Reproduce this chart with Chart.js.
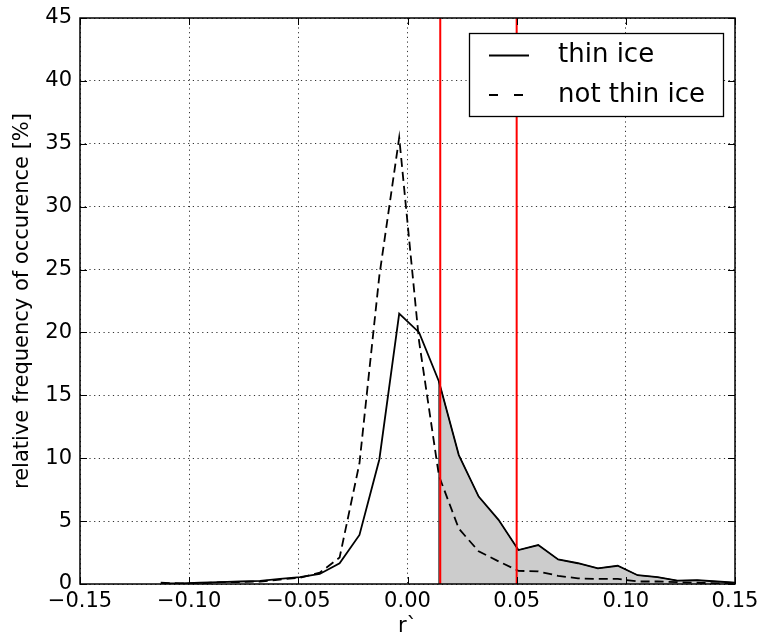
<!DOCTYPE html>
<html><head><meta charset="utf-8">
<script src="https://cdn.jsdelivr.net/npm/chart.js@4.4.0/dist/chart.umd.min.js"></script>
<style>html,body{margin:0;padding:0;background:#fff;}canvas{display:block;}</style>
</head><body>
<canvas id="c" width="759" height="635"></canvas>
<script>
// ---- data ----
const rValues = [-0.1130,-0.1039,-0.0948,-0.0857,-0.0766,-0.0675,-0.0584,-0.0493,-0.0402,-0.0311,
  -0.0220,-0.0129,-0.0038,0.0053,0.0144,0.0235,0.0326,0.0417,0.0508,0.0599,
  0.0690,0.0781,0.0872,0.0963,0.1054,0.1145,0.1236,0.1327,0.1418,0.1509];
const thinIce = [0.05,0.05,0.1,0.15,0.2,0.25,0.4,0.55,0.8,1.65,
  3.9,9.9,21.5,20.0,16.1,10.25,6.95,5.1,2.7,3.1,
  1.95,1.65,1.25,1.45,0.7,0.55,0.27,0.3,0.2,0.1];
const notThinIce = [0.1,0.05,0.05,0.15,0.15,0.2,0.35,0.5,0.9,2.1,
  9.6,24.5,35.5,19.3,8.6,4.4,2.6,1.8,1.05,1.0,
  0.65,0.45,0.4,0.4,0.2,0.2,0.15,0.1,0.05,0.05];
const seriesLabels = ['thin ice', 'not thin ice'];
const thresholds = [0.015, 0.05];
const shadeFrom = 0.014;
const xTicks = [-0.15,-0.10,-0.05,0.00,0.05,0.10,0.15];
const yTicks = [0,5,10,15,20,25,30,35,40,45];
const xTitle = 'r`';
const yTitle = 'relative frequency of occurence [%]';

// ---- build datasets ----
const pts = (ys) => rValues.map((x, i) => ({x, y: ys[i]}));
const shadeIdx = rValues.findIndex(v => v >= shadeFrom);
const shadePts = [{x: rValues[shadeIdx], y: 0}].concat(pts(thinIce).slice(shadeIdx));
const yMin = yTicks[0], yMax = yTicks[yTicks.length - 1];

const FONT = '"DejaVu Sans", "Liberation Sans", sans-serif';

const frameTicks = {
  id: 'frameTicks',
  afterDatasetsDraw(chart) {
    const {ctx, chartArea: a, scales: {x, y}} = chart;
    const L = 7;
    ctx.save();
    ctx.strokeStyle = '#000';
    ctx.lineWidth = 1;
    ctx.beginPath();
    xTicks.forEach(v => {
      const px = Math.round(x.getPixelForValue(v)) + 0.5;
      ctx.moveTo(px, a.bottom); ctx.lineTo(px, a.bottom - L);
      ctx.moveTo(px, a.top); ctx.lineTo(px, a.top + L);
    });
    yTicks.forEach(v => {
      const py = Math.round(y.getPixelForValue(v)) + 0.5;
      ctx.moveTo(a.left, py); ctx.lineTo(a.left + L, py);
      ctx.moveTo(a.right, py); ctx.lineTo(a.right - L, py);
    });
    ctx.stroke();
    ctx.lineWidth = 1.5;
    ctx.strokeRect(a.left, a.top, a.right - a.left, a.bottom - a.top);
    ctx.restore();
  }
};

const innerLegend = {
  id: 'innerLegend',
  afterDraw(chart) {
    const {ctx, chartArea: a} = chart;
    const w = 254, h = 83;
    const bx = a.right - 12 - w, by = a.top + 15;
    ctx.save();
    ctx.fillStyle = '#fff';
    ctx.fillRect(bx, by, w, h);
    ctx.strokeStyle = '#000';
    ctx.lineWidth = 1.3;
    ctx.strokeRect(bx + 0.5, by + 0.5, w, h);
    const rows = [{dash: [], label: seriesLabels[0], yo: 22.5}, {dash: [9, 16], label: seriesLabels[1], yo: 62}];
    ctx.font = '26px ' + FONT;
    ctx.textBaseline = 'middle';
    ctx.fillStyle = '#000';
    rows.forEach(r => {
      ctx.beginPath();
      ctx.setLineDash(r.dash);
      ctx.lineWidth = 1.8;
      ctx.moveTo(bx + 20, by + r.yo);
      ctx.lineTo(bx + 60, by + r.yo);
      ctx.stroke();
      ctx.setLineDash([]);
      ctx.fillText(r.label, bx + 89, by + r.yo);
    });
    ctx.restore();
  }
};

const fmtX = v => (v < 0 ? '\u2212' : '') + Math.abs(v).toFixed(2);

new Chart(document.getElementById('c'), {
  type: 'scatter',
  data: {
    datasets: [
      ...thresholds.map(t => ({
        label: 'threshold', data: [{x: t, y: yMin}, {x: t, y: yMax}],
        showLine: true, borderColor: '#ff0000', borderWidth: 2, pointRadius: 0, order: 0
      })),
      {label: seriesLabels[0], data: pts(thinIce), showLine: true, borderColor: '#000',
        borderWidth: 1.8, pointRadius: 0, order: 1},
      {label: seriesLabels[1], data: pts(notThinIce), showLine: true, borderColor: '#000',
        borderWidth: 1.8, borderDash: [9, 5], pointRadius: 0, order: 2},
      {label: 'shade', data: shadePts, showLine: true, borderColor: '#000', borderWidth: 1,
        backgroundColor: '#cccccc', fill: 'origin', pointRadius: 0, order: 3}
    ]
  },
  options: {
    responsive: false,
    animation: false,
    devicePixelRatio: 1,
    layout: {padding: {left: 0, right: 24, top: 18, bottom: 0}},
    plugins: {legend: {display: false}, tooltip: {enabled: false}},
    scales: {
      x: {
        type: 'linear', min: xTicks[0], max: xTicks[xTicks.length - 1],
        afterBuildTicks: s => { s.ticks = xTicks.map(v => ({value: v})); },
        afterFit: s => { s.height = 51; s.paddingLeft = 0; s.paddingRight = 0; },
        ticks: {callback: v => fmtX(v), color: '#000', font: {family: FONT, size: 21},
          padding: 5, maxRotation: 0, autoSkip: false},
        grid: {color: 'rgba(0,0,0,0.8)', lineWidth: 1, drawTicks: false},
        border: {display: false, dash: [1.2, 3.5]},
        title: {display: true, text: xTitle, color: '#000', font: {family: FONT, size: 21},
          padding: {top: 0, bottom: -4}}
      },
      y: {
        type: 'linear', min: yMin, max: yMax,
        afterBuildTicks: s => { s.ticks = yTicks.map(v => ({value: v})); },
        afterFit: s => { s.width = 80; s.paddingTop = 0; s.paddingBottom = 0; },
        ticks: {callback: v => String(v), color: '#000', font: {family: FONT, size: 21},
          padding: 8, autoSkip: false},
        grid: {color: 'rgba(0,0,0,0.8)', lineWidth: 1, drawTicks: false},
        border: {display: false, dash: [1.2, 3.5]},
        title: {display: true, text: yTitle, color: '#000', font: {family: FONT, size: 21},
          padding: {top: 10, bottom: 0}}
      }
    }
  },
  plugins: [frameTicks, innerLegend]
});
</script>
</body></html>
